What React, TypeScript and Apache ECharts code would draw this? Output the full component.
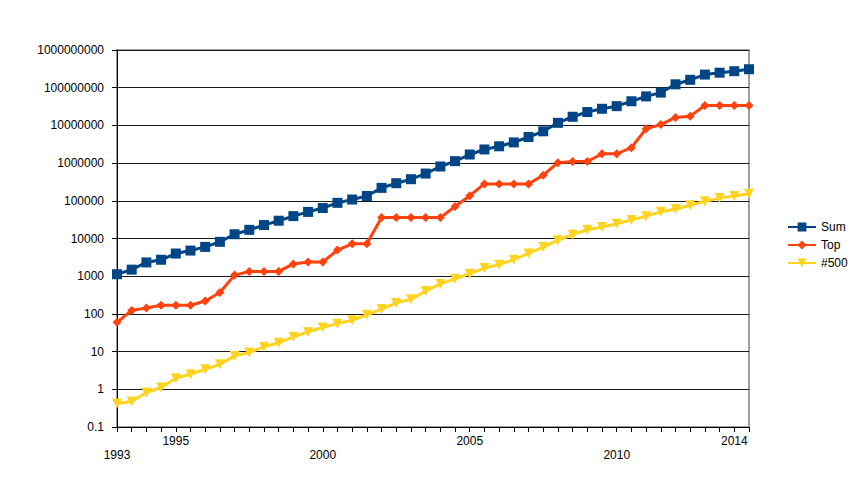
import React, { useEffect, useRef } from "react";
import * as echarts from "echarts";

const periods = [
  "1993-06","1993-11","1994-06","1994-11","1995-06","1995-11","1996-06","1996-11",
  "1997-06","1997-11","1998-06","1998-11","1999-06","1999-11","2000-06","2000-11",
  "2001-06","2001-11","2002-06","2002-11","2003-06","2003-11","2004-06","2004-11",
  "2005-06","2005-11","2006-06","2006-11","2007-06","2007-11","2008-06","2008-11",
  "2009-06","2009-11","2010-06","2010-11","2011-06","2011-11","2012-06","2012-11",
  "2013-06","2013-11","2014-06","2014-11",
];

// tick labels: which category shows which year, and which row (upper/lower)
const tickLabels: Record<number, string> = { 0: "1993", 4: "1995", 14: "2000", 24: "2005", 34: "2010", 42: "2014" };
const lowerRow = [0, 14, 34];

const sumValues = [
  1128, 1493, 2317, 2732, 3993, 4785, 5986, 8157,
  12960, 16960, 22710, 29650, 39200, 50780, 64280, 88230,
  108000, 134000, 220000, 293000, 374000, 528000, 813000, 1127000,
  1690000, 2300000, 2790000, 3540000, 4920000, 6970000, 11700000, 16950000,
  22600000, 27600000, 32400000, 43700000, 58900000, 74200000, 123000000, 162000000,
  223000000, 250000000, 274000000, 309000000,
];

const topValues = [
  59.7, 124, 143.4, 170, 170, 170, 220.4, 368.2,
  1068, 1338, 1338, 1338, 2121, 2379, 2379, 4938,
  7226, 7226, 35860, 35860, 35860, 35860, 35860, 70720,
  136800, 280600, 280600, 280600, 280600, 478200, 1026000, 1105000,
  1105000, 1759000, 1759000, 2566000, 8162000, 10510000, 16320000, 17590000,
  33860000, 33860000, 33860000, 33860000,
];

const n500Values = [
  0.4218, 0.472, 0.822, 1.114, 1.96, 2.5, 3.4, 4.6,
  7.7, 9.5, 13.4, 17.1, 24.7, 33.1, 43.8, 55.1,
  67.8, 94.3, 134.3, 195.8, 245.1, 403.4, 624, 850.6,
  1166, 1646, 2026, 2737, 4005, 5929, 9000, 12640,
  17090, 20050, 24670, 31120, 39090, 50940, 60820, 76500,
  96620, 117800, 133700, 153400,
];

const FONT = "'Liberation Sans', Arial, sans-serif";

export default function App() {
  const ref = useRef<HTMLDivElement>(null);
  useEffect(() => {
    if (!ref.current) return;
    const chart = echarts.init(ref.current, null, { renderer: "svg" });
    chart.setOption({
      animation: false,
      backgroundColor: "#ffffff",
      textStyle: { fontFamily: FONT },
      grid: {
        left: 117, right: 112, top: 50, bottom: 62,
        show: true, borderColor: "#7f7f7f", borderWidth: 1.5, backgroundColor: "transparent",
      },
      legend: {
        orient: "vertical",
        left: 782,
        top: 216,
        itemGap: 6,
        itemWidth: 28,
        itemHeight: 11,
        textStyle: { fontFamily: FONT, fontSize: 12, color: "#000" },
        data: ["Sum", "Top", "#500"],
      },
      xAxis: {
        type: "category",
        data: periods,
        boundaryGap: false,
        axisLine: { lineStyle: { color: "#000", width: 1 } },
        axisTick: { show: true, interval: 0, length: 5, lineStyle: { color: "#000" } },
        axisLabel: {
          interval: 0,
          margin: 8,
          color: "#000",
          fontSize: 12,
          fontFamily: FONT,
          formatter: (_v: string, i: number) => {
            const t = tickLabels[i];
            if (!t) return "";
            return lowerRow.includes(i) ? `{lo|${t}}` : `{up|${t}}`;
          },
          rich: {
            up: { fontSize: 12, fontFamily: FONT, color: "#000" },
            lo: { fontSize: 12, fontFamily: FONT, color: "#000", padding: [14, 0, 0, 0] },
          },
        },
        splitLine: { show: false },
      },
      yAxis: {
        type: "log",
        logBase: 10,
        min: 0.1,
        max: 1000000000,
        axisLine: { show: true, lineStyle: { color: "#000", width: 1 } },
        axisTick: { show: true, length: 5, lineStyle: { color: "#000" } },
        axisLabel: {
          color: "#000",
          fontSize: 12,
          fontFamily: FONT,
          margin: 13,
          formatter: (v: number) => (v < 1 ? String(Math.round(v * 10) / 10) : String(Math.round(v))),
        },
        splitLine: { show: true, lineStyle: { color: "#1a1a1a", width: 1 } },
      },
      series: [
        {
          name: "Sum",
          type: "line",
          data: sumValues,
          color: "#004586",
          symbol: "rect",
          symbolSize: 10,
          lineStyle: { width: 3 },
        },
        {
          name: "Top",
          type: "line",
          data: topValues,
          color: "#ff420e",
          symbol: "diamond",
          symbolSize: 9,
          lineStyle: { width: 3 },
        },
        {
          name: "#500",
          type: "line",
          data: n500Values,
          color: "#ffd320",
          symbol: "triangle",
          symbolRotate: 180,
          symbolSize: 10,
          lineStyle: { width: 3 },
        },
      ],
    });
    return () => chart.dispose();
  }, []);
  return (
    <div
      ref={ref}
      style={{ position: "fixed", left: 0, top: 0, width: 861, height: 489, background: "#fff" }}
    />
  );
}
